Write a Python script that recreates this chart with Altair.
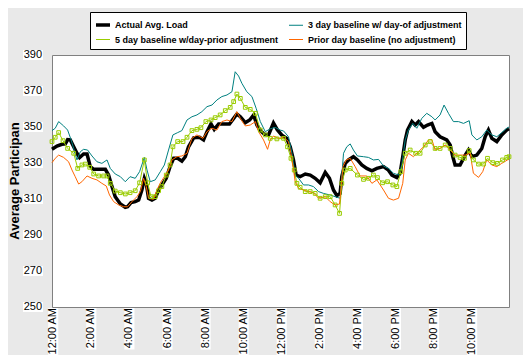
import altair as alt
import pandas as pd

series_names = [
    "Actual Avg. Load",
    "3 day baseline w/ day-of adjustment",
    "5 day baseline w/day-prior adjustment",
    "Prior day baseline (no adjustment)",
]
series_colors = ["#000000", "#008080", "#99cc00", "#ff6600"]
series_widths = [3.5, 1, 1, 1]

y_title = "Average Participan"
x_tick_hours = [0, 2, 4, 6, 8, 10, 12, 14, 16, 18, 20, 22]
x_tick_labels = ["12:00 AM", "2:00 AM", "4:00 AM", "6:00 AM", "8:00 AM", "10:00 AM",
                 "12:00 PM", "2:00 PM", "4:00 PM", "6:00 PM", "8:00 PM", "10:00 PM"]
y_ticks = [250, 270, 290, 310, 330, 350, 370, 390]

actual_h = [0, 0.26, 0.52, 0.70, 0.82, 0.96, 1.14, 1.31, 1.45, 1.66, 1.84, 2.01, 2.19, 2.45, 2.8, 2.97,
            3.15, 3.32, 3.59, 3.85, 3.97, 4.15, 4.37, 4.55, 4.72, 4.85, 4.95, 5.07, 5.25, 5.42, 5.6, 5.77,
            6.0, 6.2, 6.39, 6.6, 6.82, 7.0, 7.17, 7.44, 7.75, 7.96, 8.14, 8.35, 8.52, 8.75, 9.01, 9.32,
            9.54, 9.71, 9.89, 10.15, 10.38, 10.59, 10.76, 10.94, 11.15, 11.37, 11.63, 11.83, 12.07, 12.33,
            12.51, 12.68, 12.82, 13.03, 13.3, 13.56, 13.82, 14.08, 14.35, 14.57, 14.78, 14.96, 15.13, 15.22,
            15.4, 15.57, 15.83, 16.04, 16.27, 16.53, 16.8, 17.06, 17.41, 17.67, 17.85, 18.11, 18.28, 18.42,
            18.55, 18.67, 18.9, 19.07, 19.25, 19.51, 19.72, 19.95, 20.12, 20.38, 20.73, 20.91, 21.05, 21.17,
            21.43, 21.7, 21.87, 22.05, 22.31, 22.57, 22.75, 22.92, 23.1, 23.36, 23.62, 23.88, 24.0]
actual_v = [337.6, 339.4, 340.4, 340.6, 343, 342.8, 339, 335.4, 333, 335, 335, 328, 326.5, 326.5, 326.5, 323.3,
            317, 311.3, 307.2, 305.4, 305.7, 308, 308.5, 309.4, 315, 321.5, 318.7, 310.4, 309.4, 310.4, 315, 317.8,
            321.5, 328, 332.6, 332.6, 331, 333.5, 339, 344, 344.3, 342.8, 347.4, 351.7, 348.7, 351.7, 351.7, 351.7,
            354.8, 357.2, 355.7, 352.4, 353.9, 356.7, 351.1, 348, 346, 345.6, 352.2, 348.5, 345.5, 343.7,
            339, 331.7, 323.3, 322.4, 323.9, 323.3, 321.5, 319, 324.8, 321.5, 315, 311.9, 313.1, 322.4,
            329.8, 331.7, 333.5, 331.7, 328.9, 327, 325.7, 327, 328, 326, 323.3, 321.9, 324.3, 333.5,
            342.8, 348.3, 353, 351.1, 353, 349.8, 351.1, 352, 347.4, 344.6, 342.8, 340, 333.5, 328.9,
            328.9, 334.4, 337.2, 333.5, 334.4, 338.1, 344.6, 348.3, 343.7, 341.9, 345.6, 348.3, 349]

three_h = [0, 0.17, 0.35, 0.61, 0.82, 1.0, 1.14, 1.31, 1.49, 1.66, 1.87, 2.1, 2.36, 2.62, 2.89, 3.06, 3.32,
           3.59, 3.85, 4.1, 4.37, 4.6, 4.85, 4.99, 5.16, 5.42, 5.69, 5.9, 6.12, 6.35, 6.6, 6.82, 7.09, 7.35,
           7.61, 7.87, 8.14, 8.4, 8.66, 8.92, 9.19, 9.45, 9.62, 9.8, 9.97, 10.23, 10.5, 10.72, 10.94, 11.2,
           11.46, 11.72, 11.98, 12.16, 12.42, 12.6, 12.77, 12.95, 13.21, 13.47, 13.73, 14.0, 14.26, 14.61,
           14.87, 15.13, 15.31, 15.48, 15.66, 15.83, 16.04, 16.36, 16.62, 16.88, 17.15, 17.41, 17.67, 17.93,
           18.2, 18.37, 18.55, 18.72, 18.95, 19.16, 19.42, 19.68, 19.95, 20.12, 20.38, 20.59, 20.82, 21.08,
           21.35, 21.61, 21.91, 22.05, 22.31, 22.57, 22.83, 23.1, 23.36, 23.62, 23.88, 24.0]
three_v = [348, 349.3, 353, 350.6, 348.3, 343, 338, 331.7, 336.3, 337.6, 337.2, 333.9, 330.7, 329.8, 331.7, 327, 323.9,
           322.4, 319.6, 322.4, 321.5, 325.2, 333.1, 326.1, 319.6, 320.6, 325.2, 328.9, 337.2, 345.6, 346.9, 348, 353.9, 355.7,
           356.7, 358.5, 361.3, 362.2, 365, 366.9, 367.8, 369.6, 380.7, 378.3, 374.3, 369.6, 366.9, 360.4, 353, 347.4,
           349, 349.8, 348.3, 347.8, 344.6, 335.4, 323.3, 321.5, 317.8, 317.8, 316.9, 314.1, 313.1, 312.2,
           311.3, 310.4, 335.4, 339, 340.6, 337.2, 333.9, 333.5, 333.1, 331.7, 332, 328.3, 327, 324.3,
           323.3, 328.9, 342.8, 348.3, 352, 349.3, 354.8, 357.6, 355.7, 353.9, 356.7, 362.2, 357.6, 353,
           353, 352, 353.5, 345.6, 342.8, 344.6, 348.3, 345.6, 344.6, 346.9, 349.3, 350]

five_h = [0, 0.17, 0.35, 0.58, 0.82, 1.14, 1.35, 1.57, 1.75, 1.98, 2.19, 2.45, 2.71, 2.89, 3.06, 3.32, 3.59,
          3.85, 4.1, 4.37, 4.6, 4.85, 5.02, 5.2, 5.42, 5.6, 5.77, 6.0, 6.2, 6.35, 6.6, 6.88, 7.09, 7.35, 7.61,
          7.82, 8.08, 8.35, 8.57, 8.83, 9.1, 9.36, 9.54, 9.71, 9.89, 10.15, 10.41, 10.68, 10.94, 11.2, 11.46,
          11.81, 12.16, 12.37, 12.55, 12.72, 12.86, 13.03, 13.3, 13.56, 13.82, 14.08, 14.35, 14.61, 14.87,
          15.1, 15.22, 15.4, 15.66, 16.04, 16.36, 16.62, 16.88, 17.09, 17.36, 17.62, 17.9, 18.11, 18.32,
          18.55, 18.81, 19.1, 19.33, 19.6, 19.86, 20.12, 20.38, 20.65, 20.91, 21.17, 21.43, 21.66, 21.91,
          22.13, 22.4, 22.66, 22.87, 23.15, 23.39, 23.66, 23.88, 24.0]
five_v = [341.9, 344.3, 346.9, 342.4, 338.1, 335.4, 327, 328.9, 329.4, 327.6, 323.9, 322.8, 322.8, 322.8, 318.7, 314.4, 313.5,
          312.8, 313.5, 314.6, 319, 331.7, 319, 311.3, 311.3, 314.6, 316.9, 323.3, 328.9, 339, 341.9, 341.9, 344.3, 348, 348.7,
          349.6, 353, 353.9, 355.2, 356.7, 359.1, 360.9, 364.1, 368.3, 365.9, 360.9, 359.8, 357.6, 348.3, 345.6, 343.7,
          343.4, 343.7, 339, 332.6, 326.1, 318.7, 316.5, 314.1, 314.1, 313.1, 310.4, 311.3, 311.3, 306.7,
          302, 318.7, 326.1, 327, 323.3, 320.9, 321.5, 323.3, 321.9, 319, 319.6, 317.8, 316.9, 325.2,
          335.4, 337.2, 335.4, 335.4, 340, 341.9, 338.1, 338.1, 340, 338.1, 334.4, 333.1, 332.6, 336.9,
          331.7, 329.4, 329.4, 332.6, 330.2, 329.8, 331.7, 333.1, 333.5]

prior_h = [0, 0.17, 0.35, 0.61, 0.87, 1.05, 1.22, 1.4, 1.57, 1.84, 2.1, 2.36, 2.62, 2.85, 3.02, 3.24, 3.5, 3.76,
           3.97, 4.2, 4.46, 4.64, 4.81, 4.95, 5.07, 5.33, 5.51, 5.69, 5.9, 6.12, 6.3, 6.56, 6.82, 7.09, 7.35,
           7.61, 7.93, 8.14, 8.4, 8.66, 8.92, 9.19, 9.45, 9.71, 9.89, 10.15, 10.41, 10.68, 10.85, 11.11, 11.32,
           11.46, 11.63, 11.9, 12.16, 12.42, 12.6, 12.77, 12.95, 13.21, 13.47, 13.73, 14.0, 14.35, 14.61, 14.87,
           15.1, 15.28, 15.45, 15.66, 15.92, 16.18, 16.53, 16.8, 17.06, 17.41, 17.67, 17.93, 18.2, 18.42, 18.55,
           18.72, 18.98, 19.25, 19.51, 19.77, 19.95, 20.12, 20.38, 20.65, 20.91, 21.17, 21.43, 21.7, 21.96,
           22.13, 22.4, 22.62, 22.83, 23.1, 23.36, 23.62, 23.92, 24.0]
prior_v = [330.2, 332.6, 334.4, 333.1, 330.7, 326.1, 322.4, 318.3, 319.6, 322.8, 321.5, 320.6, 318.7, 317.2, 312.2, 308.5, 306.7, 305.7,
           305.7, 308.5, 311.3, 314.1, 321.5, 316.9, 310.4, 309.8, 315, 319, 322.4, 326.1, 331.7, 333.5, 333.9, 335.4, 343.7,
           345.6, 343.7, 347.4, 349.3, 348.3, 353, 353.9, 353, 358.5, 354.8, 350.6, 351.1, 353, 347.4, 342.8, 337.6,
           342.8, 345, 343.7, 344.3, 341.9, 332.6, 319.6, 315.9, 315, 314.1, 313.5, 310.4, 311.3, 308.5, 306.7,
           307.2, 328, 331.7, 332.6, 328, 322.8, 322.8, 318.7, 320.6, 315, 310.4, 309.4, 310.4, 318.7, 331.7,
           335.4, 333.5, 336.3, 339, 342.8, 343, 337.2, 338.1, 340, 337.2, 334.4, 334.4, 334.4, 335.4,
           324.3, 322, 325.2, 331.7, 328.9, 328, 329.8, 331.7, 332]

rows = []
for name, hs, vs in zip(series_names, [actual_h, three_h, five_h, prior_h],
                        [actual_v, three_v, five_v, prior_v]):
    for h, v in zip(hs, vs):
        rows.append({"series": name, "hour": h, "value": v})
df = pd.DataFrame(rows)

ylab_df = pd.DataFrame({"v": y_ticks, "lab": [str(t) for t in y_ticks]})
xlab_df = pd.DataFrame({"h": x_tick_hours, "lab": x_tick_labels,
                        "n": [len(s) for s in x_tick_labels]})
title_df = pd.DataFrame({"t": [y_title]})

FONT = "Liberation Sans"
Y_DOM = [250, 390]
PLOT_H = 252
units_per_px = (Y_DOM[1] - Y_DOM[0]) / PLOT_H

x_scale = alt.Scale(domain=[0, 24], nice=False, zero=False)
y_scale = alt.Scale(domain=Y_DOM, nice=False, zero=False)

x_enc = alt.X(
    "hour:Q",
    scale=x_scale,
    axis=alt.Axis(
        values=list(range(0, 25, 2)),
        labels=False,
        tickSize=5,
        tickColor="#808080",
        domain=False,
        grid=True,
        gridColor="#808080",
        gridDash=[4, 3],
        gridWidth=1,
        title=None,
    ),
)
y_enc = alt.Y(
    "value:Q",
    scale=y_scale,
    axis=alt.Axis(
        values=y_ticks,
        labels=False,
        tickSize=0,
        domain=False,
        grid=True,
        gridColor="#808080",
        gridWidth=1,
        title=None,
    ),
)

legend = alt.Legend(
    title=None,
    orient="none",
    legendX=38,
    legendY=-43,
    columns=2,
    direction="horizontal",
    fillColor="#ffffff",
    strokeColor="#000000",
    padding=4,
    labelFont=FONT,
    labelFontSize=9,
    labelFontWeight="bold",
    labelColor="#000000",
    labelLimit=300,
    labelOffset=3,
    symbolType="stroke",
    symbolSize=196,
    rowPadding=0,
    columnPadding=8,
)

lines = alt.Chart(df).mark_line(interpolate="linear").encode(
    x=x_enc,
    y=y_enc,
    color=alt.Color("series:N", scale=alt.Scale(domain=series_names, range=series_colors),
                    legend=legend),
    strokeWidth=alt.StrokeWidth("series:N",
                                scale=alt.Scale(type="ordinal", domain=series_names, range=series_widths),
                                legend=legend),
    detail="series:N",
)

markers = alt.Chart(df).transform_filter(
    alt.datum.series == series_names[2]
).mark_point(shape="square", filled=False, size=14, strokeWidth=1, color="#99cc00", opacity=1).encode(
    x=alt.X("hour:Q", scale=x_scale, axis=None),
    y=alt.Y("value:Q", scale=y_scale, axis=None),
)

# y tick labels with white boxes
ybox = alt.Chart(ylab_df).transform_calculate(
    lo=f"datum.v - {5 * units_per_px}", hi=f"datum.v + {5 * units_per_px}"
).mark_rect(color="#ffffff").encode(
    y=alt.Y("lo:Q", scale=y_scale, axis=None),
    y2="hi:Q",
    x=alt.value(-29),
    x2=alt.value(-9),
)
ytext = alt.Chart(ylab_df).mark_text(
    align="right", baseline="middle", font=FONT, fontSize=11, color="#000000"
).encode(
    y=alt.Y("v:Q", scale=y_scale, axis=None),
    x=alt.value(-10),
    text="lab:N",
)

# x tick labels (rotated) with white boxes
top_v = Y_DOM[0] - 1 * units_per_px
xbox = alt.Chart(xlab_df).transform_calculate(
    x0="datum.h - 0.2", x1="datum.h + 0.33",
    ybot=f"{top_v} - (datum.n * 5.8 + 1) * {units_per_px}",
).mark_rect(color="#ffffff").encode(
    x=alt.X("x0:Q", scale=x_scale, axis=None),
    x2="x1:Q",
    y=alt.Y("ybot:Q", scale=y_scale, axis=None),
    y2=alt.value(PLOT_H + 1),
)
xtext = alt.Chart(xlab_df).transform_calculate(
    hx="datum.h + 0.07"
).mark_text(
    align="right", baseline="middle", angle=270, font=FONT, fontSize=11, color="#000000"
).encode(
    x=alt.X("hx:Q", scale=x_scale, axis=None),
    y=alt.value(PLOT_H + 1),
    text="lab:N",
)

ytitle = alt.Chart(title_df).mark_text(
    align="center", baseline="middle", angle=270, font=FONT, fontSize=13,
    fontWeight="bold", color="#000000"
).encode(
    x=alt.value(-37),
    y=alt.value(PLOT_H / 2),
    text="t:N",
)

chart = alt.layer(lines, markers, ybox, ytext, xbox, xtext, ytitle).properties(
    width=457,
    height=PLOT_H,
    autosize=alt.AutoSizeParams(type="none"),
    padding={"left": 44, "top": 47, "right": 14, "bottom": 48},
    background="#e9e9e9",
).configure_view(
    stroke="#808080",
    strokeWidth=1,
    fill="#ffffff",
)

chart.save("out.html", embed_options={"renderer": "svg", "actions": False})
